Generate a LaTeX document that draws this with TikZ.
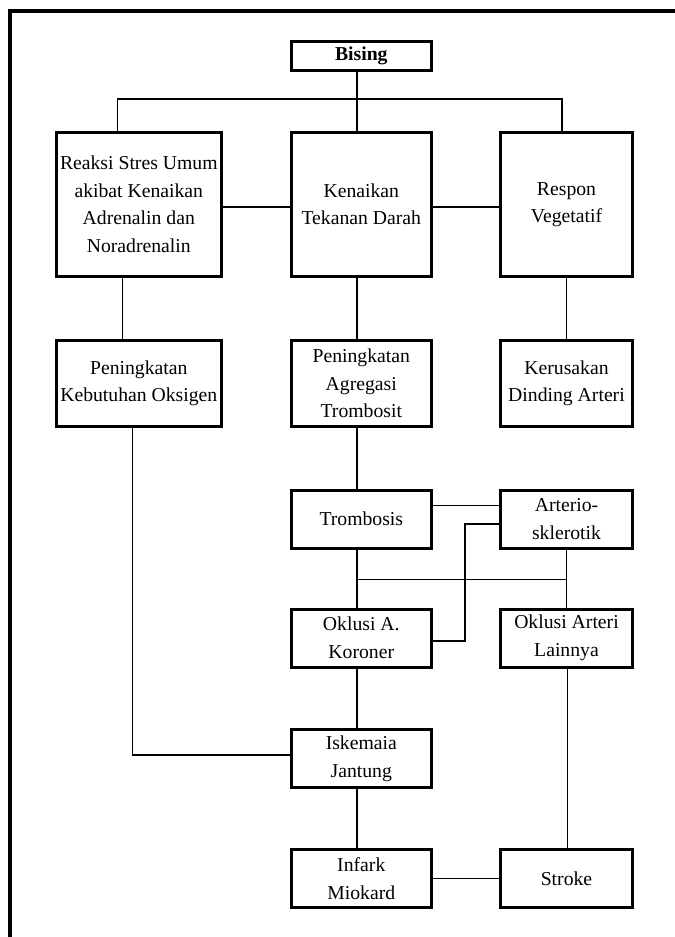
\documentclass[tikz,border=0pt]{standalone}
\usepackage{fontspec}
\setmainfont{Liberation Serif}
\begin{document}
\begin{tikzpicture}[x=1bp,y=-1bp,
  box/.style={draw, line width=3bp, inner sep=0pt, align=center,
    font=\fontsize{19.7bp}{27.5bp}\selectfont},
  lc/.style={minimum width=164.7bp},
  mc/.style={minimum width=139.6bp},
  rc/.style={minimum width=131.4bp},
  conn/.style={line width=1.2bp}]
\useasboundingbox (0,0) rectangle (675,937);
\fill[white] (0,0) rectangle (675,937);
\draw[line width=4bp] (675,11) -- (10,11) -- (10,937);

\node[box,mc,minimum height=29bp] (bising) at (361.3,56) {\bfseries Bising};
\node[box,lc,minimum height=144bp] (reaksi) at (138.8,204.5) {Reaksi Stres Umum\\akibat Kenaikan\\Adrenalin dan\\Noradrenalin};
\node[box,mc,minimum height=144bp] (tekanan) at (361.3,204.5) {Kenaikan\\Tekanan Darah};
\node[box,rc,minimum height=144bp] (respon) at (566.5,204.5) {Respon\\Vegetatif};
\node[box,lc,minimum height=86bp] (oksigen) at (138.8,383.5) {Peningkatan\\Kebutuhan Oksigen};
\node[box,mc,minimum height=86bp] (agregasi) at (361.3,383.5) {Peningkatan\\Agregasi\\Trombosit};
\node[box,rc,minimum height=86bp] (dinding) at (566.5,383.5) {Kerusakan\\Dinding Arteri};
\node[box,mc,minimum height=58bp] (trombosis) at (361.3,519) {Trombosis};
\node[box,rc,minimum height=58bp] (arterio) at (566.5,519) {Arterio-\\sklerotik};
\node[box,mc,minimum height=58bp] (koroner) at (361.3,638) {Oklusi A.\\Koroner};
\node[box,rc,minimum height=58bp] (lainnya) at (566.5,638) {Oklusi Arteri\\Lainnya};
\node[box,mc,minimum height=58bp] (iskemia) at (361.3,758.6) {Iskemaia\\Jantung};
\node[box,mc,minimum height=58bp] (infark) at (361.3,878.8) {Infark\\Miokard};
\node[box,rc,minimum height=58bp] (stroke) at (566.5,878.8) {Stroke};

% helper coordinates
\coordinate (bus) at (0,99);
\coordinate (midbar) at (0,579.3);
\coordinate (jx) at (465,0);
\coordinate (rkT) at ([xshift=-21.3bp]reaksi.north);
\coordinate (rsT) at ([xshift=-4.5bp]respon.north);
\coordinate (rkB) at ([xshift=-16.3bp]reaksi.south);
\coordinate (okT) at ([xshift=-16.3bp]oksigen.north);
\coordinate (okB) at ([xshift=-6.5bp]oksigen.south);
\coordinate (isW) at ([yshift=3.6bp]iskemia.west);
\coordinate (trS) at ([xshift=-4.3bp]trombosis.south);
\coordinate (koE) at ([yshift=-3bp]koroner.east);
\coordinate (arW) at ([yshift=-5bp]arterio.west);

\draw[conn] ([xshift=-4.3bp]bising.south) -- ([xshift=-4.3bp]tekanan.north);
\draw[conn] (rkT) -- (rkT |- bus) -- (rsT |- bus) -- (rsT);
\draw[conn] ([yshift=-2.5bp]reaksi.east) -- ([yshift=-2.5bp]tekanan.west);
\draw[conn] ([yshift=-2.5bp]tekanan.east) -- ([yshift=-2.5bp]respon.west);
\draw[conn] (rkB) -- (okT);
\draw[conn] ([xshift=-4.3bp]tekanan.south) -- ([xshift=-4.3bp]agregasi.north);
\draw[conn] (respon.south) -- (dinding.north);
\draw[conn] ([xshift=-4.3bp]agregasi.south) -- ([xshift=-4.3bp]trombosis.north);
\draw[conn] ([yshift=13.3bp]trombosis.east) -- ([yshift=13.3bp]arterio.west);
\draw[conn] (koE) -- (jx |- koE) -- (jx |- arW) -- (arW);
\draw[conn] (trS) -- ([xshift=-4.3bp]koroner.north);
\draw[conn] (arterio.south) -- (lainnya.north);
\draw[conn] (trS |- midbar) -- (arterio.south |- midbar);
\draw[conn] ([xshift=-4.3bp]koroner.south) -- ([xshift=-4.3bp]iskemia.north);
\draw[conn] (okB) |- (isW);
\draw[conn] ([xshift=-4.3bp]iskemia.south) -- ([xshift=-4.3bp]infark.north);
\draw[conn] ([xshift=1bp]lainnya.south) -- ([xshift=1bp]stroke.north);
\draw[conn] (infark.east) -- (stroke.west);
\end{tikzpicture}
\end{document}
